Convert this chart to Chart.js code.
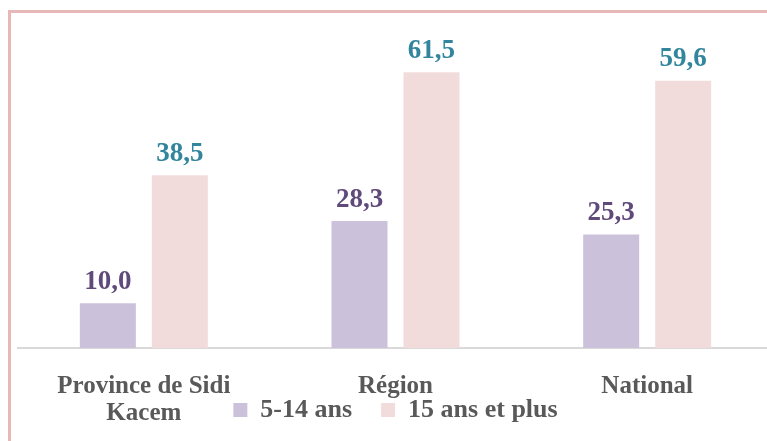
<!DOCTYPE html>
<html lang="fr">
<head>
  <meta charset="UTF-8">
  <title>Taux par tranche d'âge</title>
  <script src="https://cdn.jsdelivr.net/npm/chart.js"></script>
  <style>
    html, body { margin: 0; padding: 0; overflow: hidden; background: #fff; }
    #frame { position: absolute; left: 8px; top: 10px; width: 800px; height: 500px;
             border-left: 3px solid #E6B9B8; border-top: 3px solid #E6B9B8; }
    #wrap { position: absolute; left: 0; top: 0; width: 780px; height: 441px; }
  </style>
</head>
<body>
  <div id="frame"></div>
  <div id="wrap"><canvas id="chart"></canvas></div>

  <script>
    const categories = [['Province de Sidi', 'Kacem'], 'Région', 'National'];
    const young = [10.0, 28.3, 25.3];
    const adults = [38.5, 61.5, 59.6];
    const seriesNames = ['5-14 ans', '15 ans et plus'];

    const serif = '"Liberation Serif", "Times New Roman", serif';

    // value labels above each bar, comma decimals
    const valueLabels = {
      id: 'valueLabels',
      afterLayout(chart) {
        // the x labels overlap the legend row, so let them draw past the squeezed axis box
        chart.scales.x.bottom = chart.height;
      },
      afterDatasetsDraw(chart) {
        const ctx = chart.ctx;
        const colors = ['#604A7B', '#31859C'];
        ctx.save();
        ctx.font = 'bold 27px ' + serif;
        ctx.textAlign = 'center';
        ctx.textBaseline = 'bottom';
        chart.data.datasets.forEach((ds, i) => {
          const meta = chart.getDatasetMeta(i);
          ctx.fillStyle = colors[i];
          meta.data.forEach((bar, j) => {
            const txt = ds.data[j].toFixed(1).replace('.', ',');
            ctx.fillText(txt, bar.x, bar.y - 8);
          });
        });
        ctx.restore();
      }
    };

    new Chart(document.getElementById('chart'), {
      type: 'bar',
      data: {
        labels: categories,
        datasets: [
          { label: seriesNames[0], data: young, backgroundColor: '#CCC1DA' },
          { label: seriesNames[1], data: adults, backgroundColor: '#F2DCDB' }
        ]
      },
      options: {
        responsive: true,
        maintainAspectRatio: false,
        animation: false,
        categoryPercentage: 0.572,
        barPercentage: 0.778,
        layout: { padding: { left: 18, right: 7, top: 34, bottom: 8 } },
        plugins: {
          tooltip: { enabled: false },
          legend: {
            position: 'bottom',
            labels: {
              boxWidth: 14,
              boxHeight: 14,
              padding: 29,
              color: '#595959',
              font: { family: serif, size: 26, weight: 'bold' }
            }
          }
        },
        scales: {
          x: {
            grid: { display: false, drawTicks: false },
            border: { display: true, color: '#D9D9D9', width: 2 },
            ticks: {
              padding: 25,
              color: '#595959',
              maxRotation: 0,
              font: { family: serif, size: 25, weight: 'bold', lineHeight: 1.08 }
            },
            afterFit(scale) { scale.height = 20; }
          },
          y: {
            display: false,
            min: 0,
            max: 70
          }
        }
      },
      plugins: [valueLabels]
    });
  </script>
</body>
</html>
